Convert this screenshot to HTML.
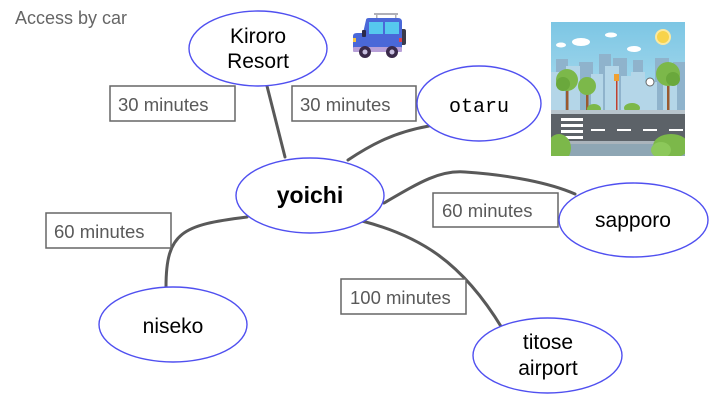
<!DOCTYPE html>
<html><head><meta charset="utf-8"><style>
html,body{margin:0;padding:0;background:#fff;}
body{width:719px;height:400px;overflow:hidden;position:relative;}
svg{position:absolute;left:0;top:0;}
</style></head><body>
<svg width="719" height="400" viewBox="0 0 719 400" xmlns="http://www.w3.org/2000/svg">
<!-- title -->
<text x="15" y="24" font-family="Liberation Sans, sans-serif" font-size="18" fill="#666">Access by car</text>

<!-- connectors -->
<g fill="none" stroke="#595959" stroke-width="3" stroke-linecap="round">
<path d="M267,86 L285,157"/>
<path d="M348,160 C372,144 395,132 429,126"/>
<path d="M384,203 C420,182 440,170 465,172 C510,175 550,183 575,194"/>
<path d="M362,221 C420,236 462,262 502,328"/>
<path d="M247,217 C182,225 166,232 166,287"/>
</g>

<!-- label boxes -->
<g fill="#fff" stroke="#666" stroke-width="1.5">
<rect x="110" y="86" width="125" height="35"/>
<rect x="292" y="86" width="124" height="35"/>
<rect x="433" y="193" width="125" height="34"/>
<rect x="341" y="279" width="125" height="35"/>
<rect x="46" y="213" width="125" height="35"/>
</g>
<g font-family="Liberation Sans, sans-serif" font-size="18.5" fill="#595959">
<text x="118" y="111">30 minutes</text>
<text x="300" y="111">30 minutes</text>
<text x="442" y="217">60 minutes</text>
<text x="350" y="304">100 minutes</text>
<text x="54" y="238">60 minutes</text>
</g>

<!-- nodes -->
<g fill="#fff" stroke="#5050f0" stroke-width="1.4">
<ellipse cx="258" cy="48.5" rx="69" ry="37.5"/>
<ellipse cx="479" cy="103.5" rx="62" ry="37.5"/>
<ellipse cx="310" cy="195.5" rx="74" ry="37.5"/>
<ellipse cx="633.5" cy="220" rx="74.5" ry="37"/>
<ellipse cx="547.5" cy="355.5" rx="74.5" ry="37.5"/>
<ellipse cx="173" cy="324.5" rx="74" ry="37.5"/>
</g>
<g font-family="Liberation Sans, sans-serif" font-size="21" fill="#000" text-anchor="middle">
<text x="258" y="43">Kiroro</text>
<text x="258" y="68">Resort</text>
<text x="310" y="203" font-weight="bold" font-size="23">yoichi</text>
<text x="633" y="227">sapporo</text>
<text x="548" y="349">titose</text>
<text x="548" y="375">airport</text>
<text x="173" y="333">niseko</text>
<text x="479" y="112" font-family="Liberation Mono, monospace" font-size="20">otaru</text>
</g>

<!-- car icon -->
<g>
<rect x="374" y="13" width="24" height="2" fill="#b0b0b8"/>
<rect x="376" y="14" width="1.5" height="5" fill="#b0b0b8"/>
<rect x="395" y="14" width="1.5" height="5" fill="#b0b0b8"/>
<rect x="400" y="29" width="6" height="16" rx="2" fill="#3a3a4a"/>
<path d="M366,20 Q366,18 369,18 L398,18 Q402,18 402,22 L402,48 L353,48 L353,36 Q353,33 357,33 L363,33 Z" fill="#4a68d8"/>
<path d="M369,22 L399,22 L399,34 L369,34 Z" fill="#56c8ee"/>
<rect x="383" y="22" width="2" height="12" fill="#4a68d8"/>
<rect x="362" y="30" width="4" height="7" rx="1" fill="#2a2a4a"/>
<rect x="353" y="38" width="3" height="4" fill="#f5c542"/>
<rect x="399" y="38" width="3" height="4" fill="#e04050"/>
<rect x="353" y="47" width="49" height="5" rx="1" fill="#b8a0d8"/>
<circle cx="365" cy="52" r="6" fill="#3a2a4a"/>
<circle cx="365" cy="52" r="2.5" fill="#c8c0e0"/>
<circle cx="392" cy="52" r="6" fill="#3a2a4a"/>
<circle cx="392" cy="52" r="2.5" fill="#c8c0e0"/>
</g>

<!-- city image -->
<g transform="translate(551,22)">
<defs>
<linearGradient id="sky" x1="0" y1="0" x2="0" y2="1">
<stop offset="0" stop-color="#7cc6e4"/><stop offset="1" stop-color="#c8e8f4"/>
</linearGradient>
<clipPath id="cp"><rect x="0" y="0" width="134" height="134"/></clipPath>
</defs>
<g clip-path="url(#cp)">
<rect x="0" y="0" width="134" height="134" fill="url(#sky)"/>
<circle cx="112" cy="15" r="7" fill="#f8d34a" stroke="#fbe9a0" stroke-width="2"/>
<ellipse cx="30" cy="20" rx="9" ry="4" fill="#fff"/>
<ellipse cx="10" cy="23" rx="5" ry="2.5" fill="#fff"/>
<ellipse cx="60" cy="13" rx="6" ry="2.5" fill="#fff"/>
<ellipse cx="83" cy="27" rx="7" ry="3" fill="#fff"/>
<!-- back buildings -->
<g fill="#8fb3cc">
<rect x="5" y="37" width="12" height="52"/>
<rect x="28" y="40" width="14" height="49"/>
<rect x="48" y="32" width="12" height="57"/>
<rect x="62" y="36" width="14" height="53"/>
<rect x="82" y="38" width="10" height="51"/>
<rect x="104" y="36" width="14" height="53"/>
<rect x="122" y="40" width="12" height="49"/>
</g>
<g fill="#b4d6e8">
<rect x="0" y="50" width="14" height="39"/>
<rect x="15" y="44" width="14" height="45"/>
<rect x="40" y="52" width="12" height="37"/>
<rect x="54" y="44" width="14" height="45"/>
<rect x="70" y="54" width="10" height="35"/>
<rect x="80" y="50" width="14" height="39"/>
<rect x="92" y="60" width="14" height="29"/>
<rect x="112" y="50" width="14" height="39"/>
</g>
<!-- trees -->
<rect x="15" y="58" width="2.5" height="32" fill="#9a5a30"/>
<circle cx="16" cy="58" r="11" fill="#7cb84a"/>
<circle cx="12" cy="62" r="7" fill="#6aa83c"/>
<rect x="35" y="64" width="2.5" height="26" fill="#9a5a30"/>
<circle cx="36" cy="64" r="9" fill="#7cb84a"/>
<rect x="116" y="53" width="2.5" height="37" fill="#9a5a30"/>
<circle cx="117" cy="52" r="12" fill="#7cb84a"/>
<circle cx="122" cy="57" r="7" fill="#6aa83c"/>
<ellipse cx="43" cy="87" rx="7" ry="5" fill="#7cb84a"/>
<ellipse cx="81" cy="86" rx="8" ry="5" fill="#7cb84a"/>
<rect x="65" y="58" width="1.5" height="30" fill="#c04030"/>
<rect x="63" y="52" width="5" height="7" fill="#f0a030"/>
<circle cx="99" cy="60" r="4" fill="#fff" stroke="#666" stroke-width="1"/>
<!-- road -->
<rect x="0" y="88" width="134" height="4" fill="#b8c4cc"/>
<rect x="0" y="92" width="134" height="30" fill="#5c6268"/>
<rect x="0" y="119" width="134" height="3" fill="#aab4bc"/>
<rect x="0" y="122" width="134" height="12" fill="#8ea6b4"/>
<g fill="#fff">
<rect x="10" y="96" width="22" height="3"/>
<rect x="10" y="102" width="22" height="3"/>
<rect x="10" y="108" width="22" height="3"/>
<rect x="10" y="114" width="22" height="3"/>
<rect x="40" y="107" width="14" height="2"/>
<rect x="66" y="107" width="14" height="2"/>
<rect x="92" y="107" width="14" height="2"/>
<rect x="118" y="107" width="14" height="2"/>
</g>
<ellipse cx="8" cy="126" rx="12" ry="14" fill="#7cb84a"/>
<ellipse cx="120" cy="124" rx="18" ry="12" fill="#7cb84a"/>
<ellipse cx="110" cy="128" rx="10" ry="8" fill="#8cc85a"/>
</g>
</g>
</svg>
</body></html>
